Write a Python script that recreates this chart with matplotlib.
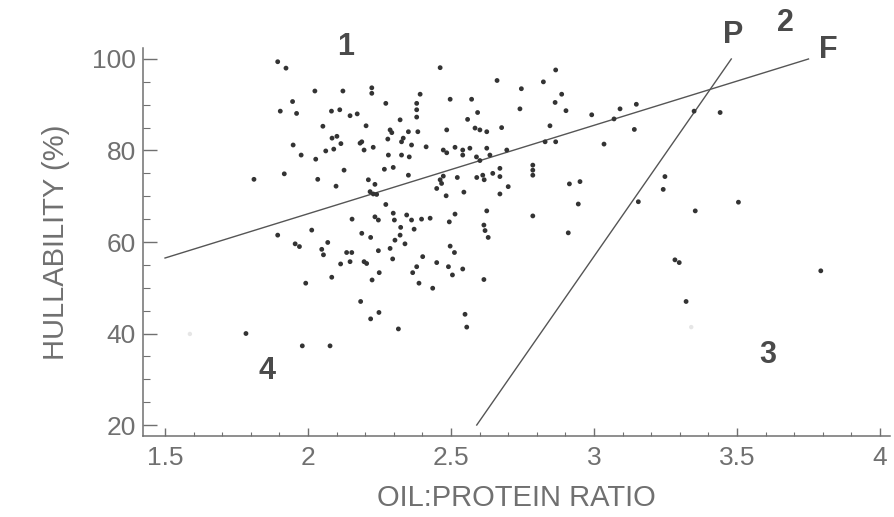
import matplotlib
matplotlib.use("Agg")
import matplotlib.pyplot as plt
from matplotlib.ticker import MultipleLocator

# hullability vs oil:protein ratio
oil_protein = [
    1.894, 1.923, 2.024, 2.122, 1.946, 1.903, 1.960, 2.082, 2.111, 2.147,
    2.172, 2.052, 2.084, 2.101, 2.115, 2.090, 2.062, 2.182, 1.948, 1.976,
    2.027, 2.126, 1.917, 1.811, 2.034, 2.098, 2.154, 1.894, 2.013,
    2.462, 2.661, 2.746, 2.823, 2.866, 2.223, 2.223, 2.392, 2.272, 2.380,
    2.380, 2.380, 2.497, 2.572, 2.864, 2.741, 2.593, 2.558, 2.322, 2.203,
    2.485, 2.584, 2.601, 2.625, 2.677, 2.846, 2.287, 2.293, 2.351, 2.384,
    2.279, 2.333, 2.327, 2.362, 2.413, 2.188, 2.196, 2.228, 2.281, 2.327,
    2.354, 2.473, 2.485, 2.514, 2.541, 2.541, 2.566, 2.589, 2.601, 2.625,
    2.636, 2.695, 2.267, 2.298, 2.351, 2.473, 2.462, 2.522, 2.590, 2.611,
    2.616, 2.646, 2.671, 2.671, 2.786, 2.786, 2.786, 2.211, 2.234, 2.217,
    2.228, 2.240, 2.450, 2.467, 2.545, 2.483, 2.671, 2.700, 2.272, 2.234,
    2.246, 2.298, 2.302, 2.345, 2.362, 2.397, 2.427, 2.494, 2.514, 2.625,
    2.786, 2.615, 2.619, 2.630,
    2.188, 2.219, 2.324, 2.322, 2.304, 2.371, 2.339, 2.287, 2.246, 2.135,
    2.153, 2.147, 2.114, 2.196, 2.205, 2.296, 2.401, 2.450, 2.497, 2.512,
    2.491, 2.505, 2.541, 2.380, 2.366, 2.249, 2.224, 2.388, 2.436, 2.615,
    2.184, 2.248, 2.219, 2.316, 2.549, 2.555,
    1.955, 1.970, 2.048, 2.054, 2.069, 2.083, 1.992, 1.783, 1.980, 2.077,
    2.887, 2.902, 2.992, 3.091, 3.148, 3.070, 3.141, 2.829, 2.866, 3.035,
    3.350, 3.441, 2.914, 2.951, 2.945, 2.910, 3.248, 3.242, 3.155, 3.354,
    3.505,
    3.283, 3.298, 3.322, 3.793,
]
hullability = [
    99.4, 98.0, 93.0, 93.0, 90.7, 88.6, 88.1, 88.6, 88.9, 87.6,
    88.0, 85.3, 82.7, 83.1, 81.5, 80.3, 79.9, 81.6, 81.2, 79.0,
    78.1, 75.7, 74.9, 73.7, 73.7, 72.2, 65.0, 61.5, 62.6,
    98.1, 95.3, 93.5, 95.0, 97.6, 93.7, 92.5, 92.3, 90.3, 90.3,
    88.9, 87.3, 91.2, 91.2, 90.5, 89.1, 88.3, 86.8, 86.7, 85.4,
    84.5, 84.9, 84.5, 84.1, 85.0, 85.4, 84.5, 83.9, 84.1, 84.1,
    82.5, 82.7, 81.9, 81.2, 80.8, 81.9, 80.1, 80.7, 79.0, 79.0,
    78.6, 80.1, 79.5, 80.7, 80.1, 79.0, 80.5, 78.6, 77.8, 80.5,
    79.0, 80.1, 75.9, 76.3, 74.6, 74.4, 73.6, 74.1, 74.1, 74.6,
    73.6, 75.0, 76.1, 74.3, 76.8, 75.7, 74.6, 73.6, 72.6, 71.0,
    70.5, 70.4, 71.7, 72.8, 70.9, 70.1, 70.5, 72.1, 68.2, 65.5,
    64.8, 66.3, 64.8, 65.9, 64.8, 65.0, 65.2, 64.4, 66.1, 66.8,
    65.7, 63.7, 62.5, 61.0,
    61.9, 61.0, 63.2, 61.5, 60.4, 62.8, 59.6, 58.6, 58.1, 57.7,
    57.7, 55.7, 55.2, 55.7, 55.3, 56.3, 56.8, 55.5, 59.1, 57.7,
    54.6, 52.8, 54.1, 54.6, 53.3, 53.3, 51.7, 51.0, 49.9, 51.8,
    47.0, 44.6, 43.2, 41.0, 44.2, 41.4,
    59.6, 59.0, 58.4, 57.2, 59.9, 52.3, 51.0, 40.0, 37.3, 37.3,
    92.3, 88.7, 87.8, 89.1, 90.1, 86.9, 84.6, 81.9, 81.9, 81.4,
    88.6, 88.3, 72.7, 73.2, 68.3, 62.0, 74.3, 71.5, 68.8, 66.8,
    68.7,
    56.1, 55.5, 47.0, 53.7,
]

# the two faint specks in the scan
faint_x = [1.587, 3.34]
faint_y = [39.9, 41.4]

# the F and P boundary lines
f_line_x = [1.5, 3.75]
f_line_y = [56.5, 100.0]
p_line_x = [2.59, 3.48]
p_line_y = [20.0, 100.0]

region_labels = ["1", "P", "2", "F", "4", "3"]
region_x = [2.133, 3.486, 3.671, 3.820, 1.855, 3.607]
region_y = [102.6, 105.2, 107.8, 101.9, 31.9, 35.4]

plt.rcParams["font.family"] = ["Liberation Sans", "DejaVu Sans"]
grey = "#707070"

fig = plt.figure(figsize=(8.94, 5.17), dpi=100)
ax = fig.add_axes([143 / 894, 81 / 517, (890 - 143) / 894, (469 - 81) / 517])

ax.scatter(oil_protein, hullability, s=12, color="#333333", edgecolors="none", zorder=3)
ax.scatter(faint_x, faint_y, s=10, color="#e6e6e6", edgecolors="none", zorder=2)
ax.plot(f_line_x, f_line_y, color="#555555", lw=1.0, zorder=2)
ax.plot(p_line_x, p_line_y, color="#555555", lw=1.0, zorder=2)

for lab, x, y in zip(region_labels, region_x, region_y):
    ax.text(x, y, lab, ha="center", va="center", fontsize=22, fontweight="bold",
            color="#4a4a4a", clip_on=False)

ax.set_xlim(1.423, 4.035)
ax.set_ylim(17.6, 102.4)

ax.xaxis.set_major_locator(MultipleLocator(0.5))
ax.xaxis.set_minor_locator(MultipleLocator(0.1))
ax.yaxis.set_major_locator(MultipleLocator(20))
ax.yaxis.set_minor_locator(MultipleLocator(5))
ax.set_xticks([1.5, 2, 2.5, 3, 3.5, 4])
ax.set_xticklabels(["1.5", "2", "2.5", "3", "3.5", "4"])

for side in ("top", "right"):
    ax.spines[side].set_visible(False)
for side in ("left", "bottom"):
    ax.spines[side].set_color(grey)
    ax.spines[side].set_linewidth(1.1)

ax.tick_params(axis="x", which="major", direction="in", length=6, width=1,
               color=grey, labelcolor=grey, labelsize=19, pad=7)
ax.tick_params(axis="x", which="minor", direction="in", length=3, width=0.8, color=grey)
ax.tick_params(axis="y", which="major", direction="in", length=10, width=1,
               color=grey, labelcolor=grey, labelsize=19, pad=5)
ax.tick_params(axis="y", which="minor", direction="in", length=5, width=0.8, color=grey)

ax.set_xlabel("OIL:PROTEIN RATIO", fontsize=21, color=grey, labelpad=10)
ax.set_ylabel("HULLABILITY (%)", fontsize=21, color=grey, labelpad=16)

fig.savefig("out.png", dpi=100)
